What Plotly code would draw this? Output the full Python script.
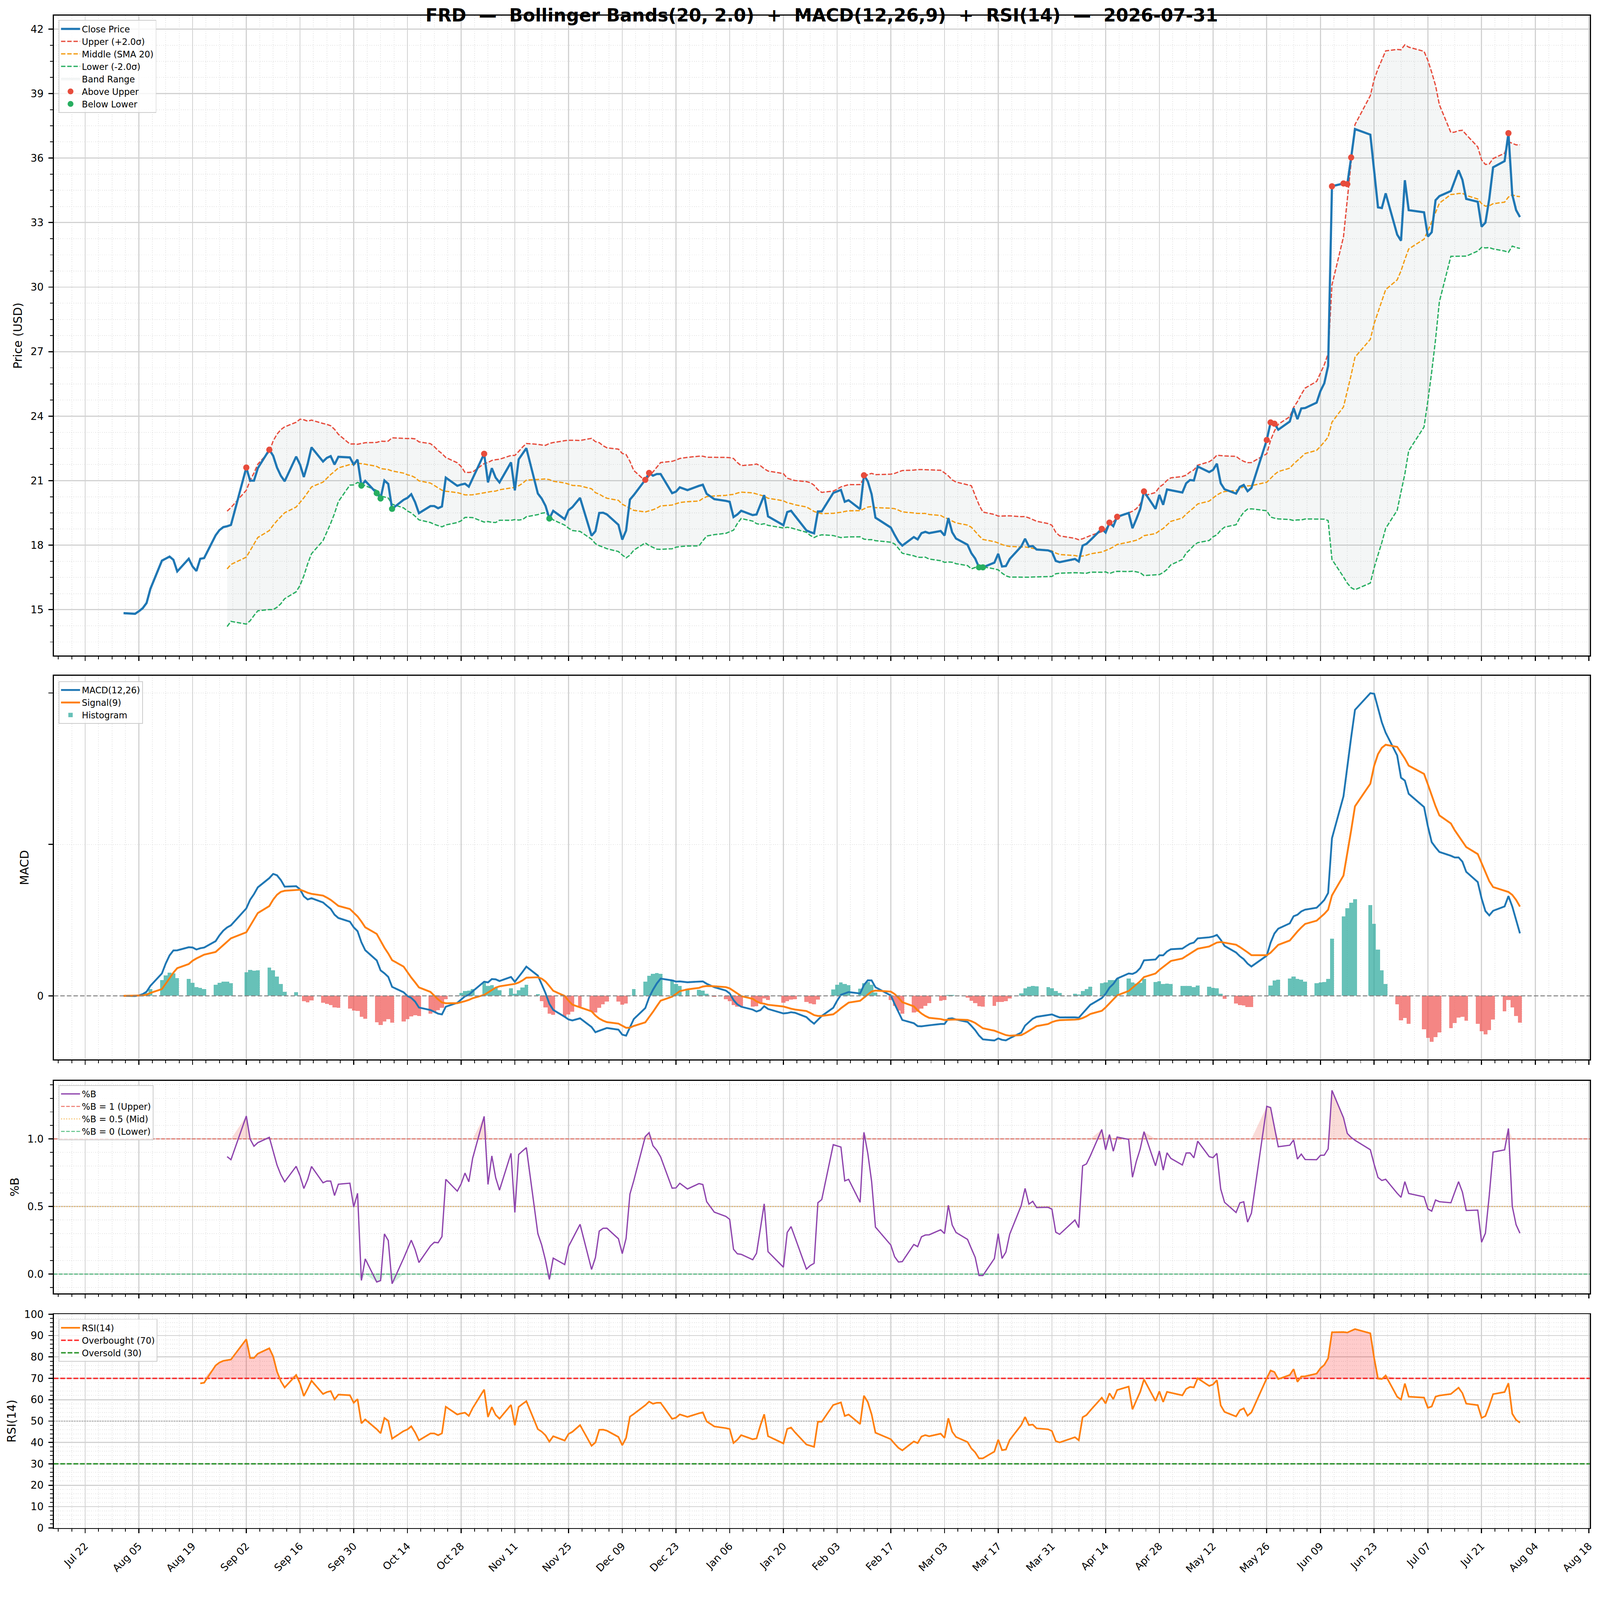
#!/usr/bin/env python3
"""Bollinger Bands + MACD + RSI dashboard for FRD, daily closes Aug 2025 - Jul 2026."""

import numpy as np
import pandas as pd
import plotly.graph_objects as go

TICKER = "FRD"
AS_OF = "2026-07-31"
BB_WINDOW, BB_K = 20, 2.0
MACD_FAST, MACD_SLOW, MACD_SIG = 12, 26, 9
RSI_LEN = 14

# market holidays in the window (no bar on these days)
HOLIDAYS = ["2025-09-01", "2025-11-27", "2025-12-25", "2026-01-01", "2026-01-19",
            "2026-02-16", "2026-04-03", "2026-05-25", "2026-06-19", "2026-07-03"]

# closing prices, one list per month (trading days in order)
CLOSE_2025_08 = [14.84, 14.81, 14.93, 15.07, 15.31, 15.97, 17.28, 17.37, 17.47, 17.32, 16.78,
                 17.37, 17.01, 16.80, 17.37, 17.40, 18.46, 18.70, 18.84, 18.88, 18.94]
CLOSE_2025_09 = [21.61, 21.00, 21.00, 21.58, 22.44, 22.16, 21.61, 21.23, 20.97, 22.12, 21.75,
                 21.17, 21.78, 22.55, 21.89, 22.06, 22.14, 21.75, 22.11, 22.08, 21.75]
CLOSE_2025_10 = [21.98, 20.77, 20.99, 20.42, 20.17, 21.01, 20.85, 19.69, 20.11, 20.20, 20.37,
                 20.00, 19.49, 19.82, 19.82, 19.72, 19.80, 21.14, 20.76, 20.82, 20.86, 20.72, 21.10]
CLOSE_2025_11 = [22.25, 20.92, 21.58, 21.14, 20.92, 21.85, 20.55, 21.99, 22.26, 22.51, 20.40,
                 20.17, 19.83, 19.24, 19.60, 19.21, 19.63, 19.77, 20.20]
CLOSE_2025_12 = [18.44, 18.65, 19.50, 19.51, 19.43, 18.95, 18.26, 18.68, 20.12, 20.33, 21.04,
                 21.36, 21.23, 21.31, 21.31, 20.42, 20.49, 20.69, 20.56, 20.76, 20.81, 20.39]
CLOSE_2026_01 = [20.14, 20.06, 20.02, 19.31, 19.43, 19.60, 19.40, 19.43, 19.88, 20.33, 19.34,
                 18.93, 19.54, 19.60, 19.37, 18.69, 18.61, 18.55, 19.57, 19.57]
CLOSE_2026_02 = [20.43, 20.49, 20.57, 20.02, 20.09, 19.68, 21.25, 20.97, 20.37, 19.28, 18.82,
                 18.48, 18.17, 17.98, 18.38, 18.27, 18.56, 18.62, 18.56]
CLOSE_2026_03 = [18.66, 18.45, 19.26, 18.60, 18.31, 18.02, 17.63, 17.38, 16.97, 16.97, 17.19,
                 17.60, 17.01, 17.03, 17.36, 17.94, 18.30, 17.94, 17.96, 17.80, 17.76, 17.69]
CLOSE_2026_04 = [17.27, 17.21, 17.36, 17.24, 17.98, 18.06, 18.23, 18.76, 18.59, 19.05, 18.88,
                 19.32, 19.50, 18.79, 19.21, 19.67, 20.50, 19.69, 20.34, 19.88, 20.59]
CLOSE_2026_05 = [20.55, 20.45, 20.88, 21.03, 21.01, 21.66, 21.40, 21.50, 21.79, 20.88, 20.60,
                 20.40, 20.71, 20.80, 20.51, 20.66, 22.89, 23.71, 23.65, 23.37]
CLOSE_2026_06 = [23.75, 24.37, 23.86, 24.36, 24.38, 24.63, 25.17, 25.53, 26.34, 34.69, 34.82,
                 34.79, 36.03, 37.35, 37.09, 35.40, 33.71, 33.68, 34.36, 32.44, 32.16]
CLOSE_2026_07 = [34.97, 33.58, 33.48, 32.35, 32.55, 34.04, 34.23, 34.47, 34.95, 35.43, 34.99,
                 34.10, 33.97, 32.81, 33.00, 34.10, 35.57, 35.86, 37.16, 34.30, 33.58, 33.26]

MONTHS = [CLOSE_2025_08, CLOSE_2025_09, CLOSE_2025_10, CLOSE_2025_11, CLOSE_2025_12,
          CLOSE_2026_01, CLOSE_2026_02, CLOSE_2026_03, CLOSE_2026_04, CLOSE_2026_05,
          CLOSE_2026_06, CLOSE_2026_07]

FONT = "DejaVu Sans"
W, H = 4378, 4322
ML, MR, MT, MB = 147, 28, 43, 134
PLOT_W, PLOT_H = W - ML - MR, H - MT - MB
DAY_MS = 86400000


def dom(top_px, bottom_px):
    """pixel rows (from top of page) -> paper domain"""
    return [(H - MB - bottom_px) / PLOT_H, (H - MB - top_px) / PLOT_H]


def legend_at(top_px):
    return dict(x=13 / PLOT_W, xanchor="left", y=(H - MB - top_px) / PLOT_H, yanchor="top",
                bgcolor="rgba(255,255,255,0.8)", bordercolor="#cccccc", borderwidth=2,
                font=dict(family=FONT, size=24, color="black"), tracegroupgap=0,
                traceorder="normal", itemwidth=52)


def padded(lo, hi, frac=0.05):
    span = hi - lo
    return [lo - frac * span, hi + frac * span]


# ---- indicators ----
dates = pd.bdate_range("2025-08-01", AS_OF)
dates = dates[~dates.isin(pd.to_datetime(HOLIDAYS))]
close = pd.Series(np.concatenate([np.array(m, dtype=float) for m in MONTHS]), index=dates)

mid = close.rolling(BB_WINDOW).mean()
sd = close.rolling(BB_WINDOW).std()
upper = mid + BB_K * sd
lower = mid - BB_K * sd
pct_b = (close - lower) / (upper - lower)

ema_f = close.ewm(span=MACD_FAST, adjust=False).mean()
ema_s = close.ewm(span=MACD_SLOW, adjust=False).mean()
macd = ema_f - ema_s
signal = macd.ewm(span=MACD_SIG, adjust=False).mean()
hist = macd - signal

delta = close.diff()
avg_g = delta.clip(lower=0).ewm(alpha=1 / RSI_LEN, min_periods=RSI_LEN, adjust=False).mean()
avg_l = (-delta.clip(upper=0)).ewm(alpha=1 / RSI_LEN, min_periods=RSI_LEN, adjust=False).mean()
rsi = 100 - 100 / (1 + avg_g / avg_l)

above = close[close > upper]
below = close[close < lower]

xspan = dates[-1] - dates[0]
x_range = [dates[0] - 0.05 * xspan, dates[-1] + 0.05 * xspan]

fig = go.Figure()

# Price #
#--------
valid = upper.notna()
band_x = list(dates[valid]) + list(dates[valid][::-1])
band_y = list(upper[valid]) + list(lower[valid][::-1])
fig.add_trace(go.Scatter(x=band_x, y=band_y, fill="toself", fillcolor="rgba(149,165,166,0.10)",
                         mode="lines", line=dict(width=1, color="rgba(149,165,166,0.15)"),
                         name="Band Range", legendrank=5,
                         xaxis="x", yaxis="y", legend="legend", hoverinfo="skip"))
band_lines = [(upper, "Upper (+2.0σ)", "#e74c3c", 2),
              (mid, "Middle (SMA 20)", "#f39c12", 3),
              (lower, "Lower (-2.0σ)", "#27ae60", 4)]
for s, name, color, rank in band_lines:
    fig.add_trace(go.Scatter(x=dates, y=s, mode="lines", name=name, legendrank=rank,
                             line=dict(color=color, width=3.5, dash="12px,5px"),
                             xaxis="x", yaxis="y", legend="legend"))
fig.add_trace(go.Scatter(x=dates, y=close, mode="lines", name="Close Price", legendrank=1,
                         line=dict(color="#1f77b4", width=6), xaxis="x", yaxis="y", legend="legend"))
fig.add_trace(go.Scatter(x=above.index, y=above, mode="markers", name="Above Upper", legendrank=6,
                         marker=dict(color="#e74c3c", size=17), xaxis="x", yaxis="y", legend="legend"))
fig.add_trace(go.Scatter(x=below.index, y=below, mode="markers", name="Below Lower", legendrank=7,
                         marker=dict(color="#27ae60", size=17), xaxis="x", yaxis="y", legend="legend"))

# MACD #
#-------
pos = hist.where(hist >= 0)
neg = hist.where(hist < 0)
fig.add_trace(go.Bar(x=dates, y=pos, width=DAY_MS, name="Histogram", legendrank=3,
                     marker=dict(color="rgba(38,166,154,0.7)", line=dict(width=0)),
                     xaxis="x2", yaxis="y2", legend="legend2"))
fig.add_trace(go.Bar(x=dates, y=neg, width=DAY_MS, name="Histogram", showlegend=False,
                     marker=dict(color="rgba(239,83,80,0.7)", line=dict(width=0)),
                     xaxis="x2", yaxis="y2", legend="legend2"))
fig.add_trace(go.Scatter(x=dates, y=macd, mode="lines", name="MACD(12,26)", legendrank=1,
                         line=dict(color="#1f77b4", width=5), xaxis="x2", yaxis="y2", legend="legend2"))
fig.add_trace(go.Scatter(x=dates, y=signal, mode="lines", name="Signal(9)", legendrank=2,
                         line=dict(color="#ff7f0e", width=5), xaxis="x2", yaxis="y2", legend="legend2"))

# %B #
#-----
ones = pd.Series(np.where(pct_b.notna(), 1.0, np.nan), index=dates)
zeros = pd.Series(np.where(pct_b.notna(), 0.0, np.nan), index=dates)
fig.add_trace(go.Scatter(x=dates, y=ones, mode="lines", line=dict(width=0), showlegend=False,
                         hoverinfo="skip", xaxis="x3", yaxis="y3"))
fig.add_trace(go.Scatter(x=dates, y=np.maximum(pct_b, 1.0), mode="lines", line=dict(width=0),
                         fill="tonexty", fillcolor="rgba(231,76,60,0.2)", showlegend=False,
                         hoverinfo="skip", xaxis="x3", yaxis="y3"))
fig.add_trace(go.Scatter(x=dates, y=zeros, mode="lines", line=dict(width=0), showlegend=False,
                         hoverinfo="skip", xaxis="x3", yaxis="y3"))
fig.add_trace(go.Scatter(x=dates, y=np.minimum(pct_b, 0.0), mode="lines", line=dict(width=0),
                         fill="tonexty", fillcolor="rgba(39,174,96,0.2)", showlegend=False,
                         hoverinfo="skip", xaxis="x3", yaxis="y3"))
pb_levels = [(1.0, "%B = 1 (Upper)", "rgba(231,76,60,0.7)", "10px,4px", 2),
             (0.5, "%B = 0.5 (Mid)", "rgba(243,156,18,0.6)", "3px,4px", 3),
             (0.0, "%B = 0 (Lower)", "rgba(39,174,96,0.7)", "10px,4px", 4)]
for lvl, name, color, dash, rank in pb_levels:
    fig.add_trace(go.Scatter(x=x_range, y=[lvl, lvl], mode="lines", name=name, legendrank=rank,
                             line=dict(color=color, width=3, dash=dash),
                             xaxis="x3", yaxis="y3", legend="legend3"))
fig.add_trace(go.Scatter(x=dates, y=pct_b, mode="lines", name="%B", legendrank=1,
                         line=dict(color="#8e44ad", width=3.5), xaxis="x3", yaxis="y3", legend="legend3"))

# RSI #
#------
r70 = pd.Series(np.where(rsi.notna(), 70.0, np.nan), index=dates)
r30 = pd.Series(np.where(rsi.notna(), 30.0, np.nan), index=dates)
fig.add_trace(go.Scatter(x=dates, y=r70, mode="lines", line=dict(width=0), showlegend=False,
                         hoverinfo="skip", xaxis="x4", yaxis="y4"))
fig.add_trace(go.Scatter(x=dates, y=np.maximum(rsi, 70.0), mode="lines", line=dict(width=0),
                         fill="tonexty", fillcolor="rgba(255,0,0,0.2)", showlegend=False,
                         hoverinfo="skip", xaxis="x4", yaxis="y4"))
fig.add_trace(go.Scatter(x=dates, y=r30, mode="lines", line=dict(width=0), showlegend=False,
                         hoverinfo="skip", xaxis="x4", yaxis="y4"))
fig.add_trace(go.Scatter(x=dates, y=np.minimum(rsi, 30.0), mode="lines", line=dict(width=0),
                         fill="tonexty", fillcolor="rgba(0,128,0,0.2)", showlegend=False,
                         hoverinfo="skip", xaxis="x4", yaxis="y4"))
fig.add_trace(go.Scatter(x=x_range, y=[50, 50], mode="lines", showlegend=False,
                         line=dict(color="rgba(128,128,128,0.6)", width=3, dash="3px,4px"),
                         xaxis="x4", yaxis="y4"))
rsi_levels = [(70, "Overbought (70)", "rgba(255,0,0,0.8)", 2),
              (30, "Oversold (30)", "rgba(0,128,0,0.8)", 3)]
for lvl, name, color, rank in rsi_levels:
    fig.add_trace(go.Scatter(x=x_range, y=[lvl, lvl], mode="lines", name=name, legendrank=rank,
                             line=dict(color=color, width=4, dash="13px,5px"),
                             xaxis="x4", yaxis="y4", legend="legend4"))
fig.add_trace(go.Scatter(x=dates, y=rsi, mode="lines", name="RSI(14)", legendrank=1,
                         line=dict(color="#ff7f0e", width=4.5), xaxis="x4", yaxis="y4", legend="legend4"))

# MACD zero line
fig.add_shape(type="line", xref="x2 domain", yref="y2", x0=0, x1=1, y0=0, y1=0,
              line=dict(color="rgba(128,128,128,0.9)", width=3, dash="12px,6px"))

# Layout #
#---------
MINOR_GRID = dict(showgrid=True, gridcolor="#e3e3e3", gridwidth=2, griddash="2px,4px",
                  ticks="outside", ticklen=7, tickwidth=2, tickcolor="black")


def axis_base():
    return dict(showline=True, linecolor="black", linewidth=3, mirror=True,
                ticks="outside", ticklen=11, tickwidth=3, tickcolor="black",
                showgrid=True, gridcolor="#d2d2d2", gridwidth=2.5, zeroline=False,
                tickfont=dict(family=FONT, size=28, color="black"), ticklabelstandoff=8)


def x_axis(anchor, labels):
    ax = axis_base()
    ax.update(type="date", range=x_range, anchor=anchor, tick0="2025-07-22", dtick=14 * DAY_MS,
              tickformat="%b %d", showticklabels=labels,
              minor=dict(MINOR_GRID, tick0="2025-07-22", dtick=3.5 * DAY_MS))
    if labels:
        ax.update(tickangle=-45)
    return ax


def y_axis(anchor, domain, title, rng, dtick, minor_dtick):
    ax = axis_base()
    ax.update(anchor=anchor, domain=domain, range=rng, dtick=dtick, tick0=0,
              title=dict(text=title, font=dict(family=FONT, size=32, color="black"), standoff=14),
              minor=dict(MINOR_GRID, dtick=minor_dtick, tick0=0))
    return ax


price_lo = min(lower.min(), close.min())
price_hi = max(upper.max(), close.max())
macd_lo = min(macd.min(), signal.min(), hist.min(), 0)
macd_hi = max(macd.max(), signal.max(), hist.max(), 0)
pb_lo = min(pct_b.min(), 0.0)
pb_hi = max(pct_b.max(), 1.0)

y2 = y_axis("x2", dom(1852, 2904), "MACD", padded(macd_lo, macd_hi), None, 2)
y2.update(tickvals=[0], ticktext=["0"], showgrid=False)
y2["minor"].update(ticklen=11, tickwidth=3)

fig.update_layout(
    width=W, height=H,
    margin=dict(l=ML, r=MR, t=MT, b=MB),
    paper_bgcolor="white", plot_bgcolor="white",
    font=dict(family=FONT, size=28, color="black"),
    title=dict(text=f"{TICKER}\u00a0\u00a0—\u00a0\u00a0Bollinger Bands(20, 2.0)\u00a0\u00a0+\u00a0\u00a0"
                    f"MACD(12,26,9)\u00a0\u00a0+\u00a0\u00a0RSI(14)\u00a0\u00a0—\u00a0\u00a0{AS_OF}",
               x=0.5, xanchor="center", xref="paper", y=1 - 42 / H, yanchor="middle", yref="container",
               font=dict(family=FONT, size=49, color="black", weight="bold")),
    barmode="overlay",
    bargap=0,
    showlegend=True,
    xaxis=x_axis("y", False),
    xaxis2=x_axis("y2", False),
    xaxis3=x_axis("y3", False),
    xaxis4=x_axis("y4", True),
    yaxis=y_axis("x", dom(43, 1797), "Price (USD)", padded(price_lo, price_hi), 3, 0.75),
    yaxis2=y2,
    yaxis3=y_axis("x3", dom(2962, 3545), "%B", padded(pb_lo, pb_hi), 0.5, 0.1),
    yaxis4=y_axis("x4", dom(3602, 4188), "RSI(14)", [0, 100], 10, 2),
    legend=legend_at(55),
    legend2=legend_at(1867),
    legend3=legend_at(2974),
    legend4=legend_at(3615),
)
fig.layout.yaxis3.tickformat = ".1f"

# the page may be shown with a CSS-pixel viewport narrower than W; scale the whole
# figure so that it fills the window edge to edge
FIT_JS = ("document.documentElement.style.overflow='hidden';"
          "document.body.style.margin='0';document.body.style.overflow='hidden';"
          "var gd=document.getElementById('{plot_id}');"
          "var s=window.innerWidth/" + str(W) + ";"
          "gd.style.transformOrigin='0 0';gd.style.transform='scale('+s+')';")

fig.write_html("out.html", post_script=FIT_JS, config={"displayModeBar": False})
